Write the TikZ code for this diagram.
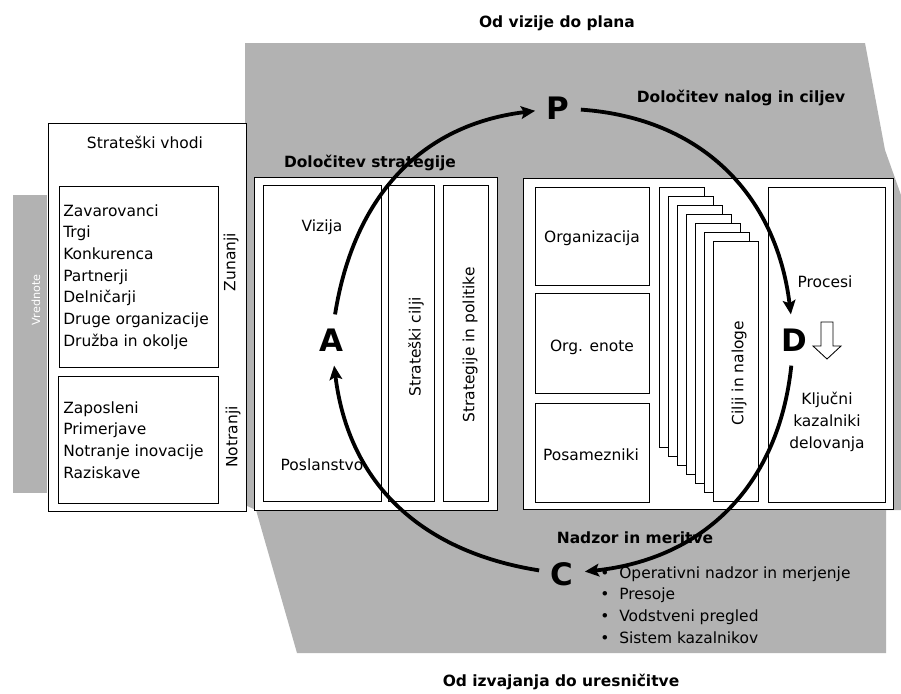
\documentclass[tikz,border=0pt]{standalone}
\usepackage{fontspec}
\setmainfont{DejaVu Sans}
\usetikzlibrary{arrows.meta}
\begin{document}
\begin{tikzpicture}[>={Stealth[length=10pt,width=9pt,inset=2pt]}, x=0.025cm, y=0.025cm,
        box/.style={draw, fill=white, line width=0.6pt},
        txt/.style={font=\fontsize{11}{15.4}\selectfont, inner sep=0pt},
        head/.style={font=\fontsize{11}{15.4}\selectfont\bfseries, inner sep=0pt},
        pdca/.style={font=\fontsize{22}{24}\selectfont\bfseries, inner xsep=8pt, inner ysep=10pt},
        cyc/.style={->, line width=2.7pt, looseness=1.05},
        grayarea/.style={fill=black!30}]
        \useasboundingbox (0,0) rectangle (901,-693);
        % ozadje
        \fill[grayarea] (245,-43) -- (865,-43) -- (885,-150) -- (901,-195) -- (901,-510) -- (886,-510)
            -- (886,-653) -- (297,-653) -- (256,-510) -- (245,-505) -- cycle;
        \fill[grayarea] (13,-195) rectangle (47,-493);
        \node[txt, white, rotate=90, font=\fontsize{8}{10}\selectfont] (vrednote) at (36,-300) {Vrednote};
        % strateski vhodi
        \draw[box] (48,-123) rectangle (246,-511);
        \node[txt] (vhodi) at (145,-142) {Strateški vhodi};
        \draw[box] (59,-186) rectangle (218,-367);
        \node[txt, anchor=west, align=left] (zunanji) at (63,-277)
            {Zavarovanci\\Trgi\\Konkurenca\\Partnerji\\Delničarji\\Druge organizacije\\Družba in okolje};
        \node[txt, rotate=90] (zunanjilab) at (231,-262) {Zunanji};
        \draw[box] (58,-376) rectangle (218,-503);
        \node[txt, anchor=west, align=left] (notranji) at (63,-440)
            {Zaposleni\\Primerjave\\Notranje inovacije\\Raziskave};
        \node[txt, rotate=90] (notranjilab) at (233,-437) {Notranji};
        % dolocitev strategije
        \node[head] (strategija) at (370,-163) {Določitev strategije};
        \draw[box] (254,-177) rectangle (497,-510);
        \draw[box] (263,-185) rectangle (381,-501);
        \draw[box] (388,-185) rectangle (434,-501);
        \draw[box] (443,-185) rectangle (488,-501);
        \node[txt] (vizija) at (322,-227) {Vizija};
        \node[txt] (poslanstvo) at (322,-465) {Poslanstvo};
        \node[txt, rotate=90] (scilji) at (416,-347) {Strateški cilji};
        \node[txt, rotate=90] (spolitike) at (470,-345) {Strategije in politike};
        % izvajanje
        \draw[box] (523,-178) rectangle (893,-509);
        \draw[box] (535,-187) rectangle (649,-285);
        \draw[box] (535,-293) rectangle (649,-393);
        \draw[box] (535,-403) rectangle (649,-502);
        \node[txt] (organizacija) at (592,-238) {Organizacija};
        \node[txt] (orgenote) at (592,-347) {Org. enote};
        \node[txt] (posamezniki) at (591,-455) {Posamezniki};
        \foreach \i in {0,...,6}
            \draw[box] (659+9*\i,-187-9*\i) rectangle (704+9*\i,-447-9*\i);
        \node[txt, rotate=90] (naloge) at (739,-373) {Cilji in naloge};
        \draw[box] (768,-187) rectangle (885,-502);
        \node[txt] (procesi) at (825,-282) {Procesi};
        \node[txt, align=center] (kazalniki) at (827,-422) {Ključni\\kazalniki\\delovanja};
        \draw[fill=white, line width=0.6pt] (821,-322) -- (833,-322) -- (833,-346) -- (841,-346)
            -- (827,-359) -- (813,-346) -- (821,-346) -- cycle;
        % naslovi
        \node[head] (vizijaplan) at (557,-23) {Od vizije do plana};
        \node[head] (nalogecilji) at (741,-98) {Določitev nalog in ciljev};
        \node[head] (nadzor) at (635,-538) {Nadzor in meritve};
        \node[head] (uresnicitev) at (561,-682) {Od izvajanja do uresničitve};
        \node[txt, anchor=north west, align=left] (presoje) at (600,-566)
            {\makebox[13.5pt][l]{•}Operativni nadzor in merjenje\\\makebox[13.5pt][l]{•}Presoje\\
             \makebox[13.5pt][l]{•}Vodstveni pregled\\\makebox[13.5pt][l]{•}Sistem kazalnikov};
        % PDCA
        \node[pdca] (P) at (558,-108) {P};
        \node[pdca] (D) at (794,-340) {D};
        \node[pdca] (C) at (562,-574) {C};
        \node[pdca] (A) at (331,-340) {A};
        \draw[cyc] (A) to[out=81, in=187] (P);
        \draw[cyc] (P) to[out=-4, in=97] (D);
        \draw[cyc] (D) to[out=-96, in=6] (C);
        \draw[cyc] (C) to[out=171, in=-83] (A);
\end{tikzpicture}
\end{document}
